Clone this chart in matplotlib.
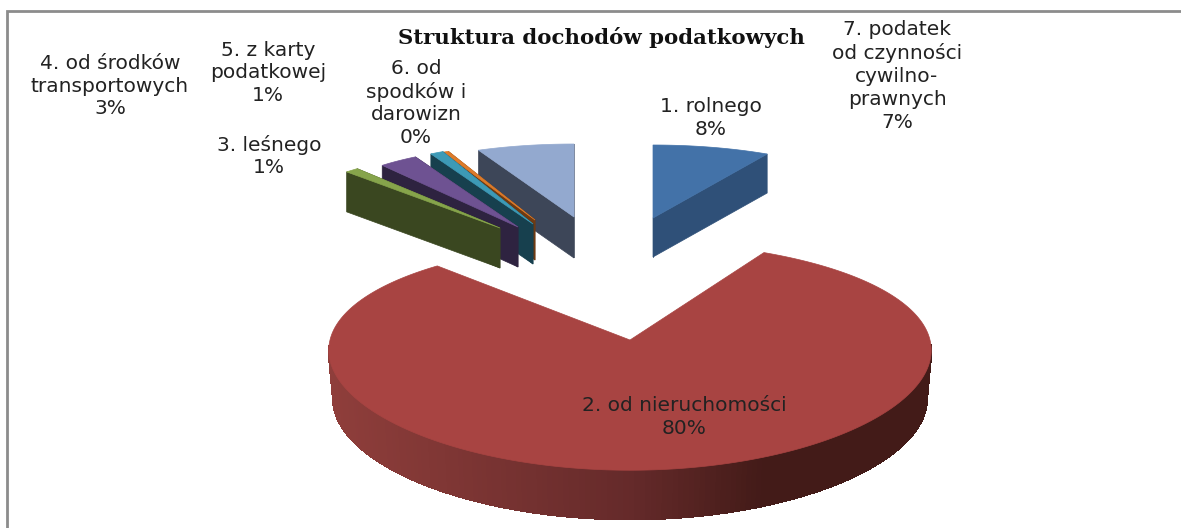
import numpy as np
from matplotlib import pyplot as plt
from matplotlib.collections import PolyCollection
from matplotlib.colors import LinearSegmentedColormap
from matplotlib.patches import Polygon

# slices, clockwise from the top
categories = ["1. rolnego", "2. od nieruchomości", "3. leśnego", "4. od środków\ntransportowych",
              "5. z karty\npodatkowej", "6. od\nspodków i\ndarowizn", "7. podatek\nod czynności\ncywilno-\nprawnych"]
values = [8, 80, 1, 3, 1, 0.4, 6.6]
percent_labels = ["8%", "80%", "1%", "3%", "1%", "0%", "7%"]
title = "Struktura dochodów podatkowych"

top_colors = ["#4372a8", "#a84442", "#86a44b", "#6e5292", "#3d9ab6", "#dd7b2a", "#93a9cf"]
side_colors = ["#2f5078", "#7a3432", "#3a4720", "#2e2340", "#17404e", "#6e3a12", "#3d4658"]

# where each exploded slice ends up in the picture (pixels), and how it is squashed
apex_x = [653, 630, 500, 518, 533, 535, 574]
apex_y = [218, 340, 228, 227, 224, 220, 217]
scale_x = [237, 300, 224, 213, 212, 215, 237]
scale_y = [73, 112, 77, 80, 80, 75, 73]
persp_x = [0, 0.09, 0, 0, 0, 0, 0]
persp_y = [0, 0.14, 0, 0, 0, 0, 0]
depth = [39, 49, 40, 40, 40, 40, 41]
draw_order = [6, 5, 4, 3, 2, 0, 1]

label_x = [711, 684, 269, 110, 268, 416, 897]
label_y = [118, 417, 156, 86, 73, 103, 76]

plt.rcParams['font.family'] = ['DejaVu Sans']

fig = plt.figure(figsize=(11.81, 5.28), dpi=100)
ax = fig.add_axes([0, 0, 1, 1])

# pie works out the angles, the wedges are then redrawn tilted
wedges, _ = ax.pie(values, startangle=90, counterclock=False)
angles = [(w.theta1, w.theta2) for w in wedges]
for w in wedges:
    w.remove()

ax.set_aspect('auto')
ax.set_xlim(0, 1181)
ax.set_ylim(528, 0)
ax.axis('off')


def project(i, u, v):
    x = apex_x[i] + scale_x[i] * u / (1 + persp_x[i] * v)
    y = apex_y[i] - scale_y[i] * v / (1 + persp_y[i] * v)
    return np.column_stack([x, y])


red_side = LinearSegmentedColormap.from_list(
    "red_side", [(0, "#8f3e3b"), (0.5, "#652a2a"), (0.72, "#431b18"), (1, "#431b18")])

for i in draw_order:
    t = np.radians(np.linspace(angles[i][0], angles[i][1], 300))
    rim = project(i, np.cos(t), np.sin(t))
    apex = project(i, np.array([0.0]), np.array([0.0]))
    down = np.array([0, depth[i]])

    if i == 1:
        # the big slice shows its round side, shaded from left to right
        # its lower edge is a little narrower than the upper one
        low = rim + down
        low[:, 0] = apex_x[i] + (low[:, 0] - apex_x[i]) * 0.985
        front = [j for j in range(len(rim) - 1) if np.sin(t[j]) < -0.05]
        quads = [[rim[j], rim[j + 1], low[j + 1], low[j]] for j in front]
        shade = (rim[front, 0] - rim[:, 0].min()) / (rim[:, 0].max() - rim[:, 0].min())
        ax.add_collection(PolyCollection(quads, facecolors=red_side(shade), edgecolors=red_side(shade),
                                         linewidths=1, antialiaseds=False))
    else:
        for end in (rim[0], rim[-1]):
            face = [apex[0], end, end + down, apex[0] + down]
            ax.add_patch(Polygon(face, closed=True, facecolor=side_colors[i], edgecolor=side_colors[i], lw=0.5))

    ax.add_patch(Polygon(np.vstack([apex, rim]), closed=True, facecolor=top_colors[i],
                         edgecolor=top_colors[i], lw=0.5))

for i in range(len(categories)):
    ax.text(label_x[i], label_y[i], categories[i] + "\n" + percent_labels[i], ha='center', va='center',
            fontsize=14.5, color="#222222", linespacing=1.25)

ax.text(601, 37, title, ha='center', va='center', fontsize=15.3, fontweight='bold',
        family='DejaVu Serif', color="#111111")

# chart frame, only the top and left edges are in the crop
ax.plot([1181, 7, 7], [11, 11, 528], color="#8c8c8c", lw=2, solid_joinstyle='miter')

plt.savefig("out.png", dpi=100)
